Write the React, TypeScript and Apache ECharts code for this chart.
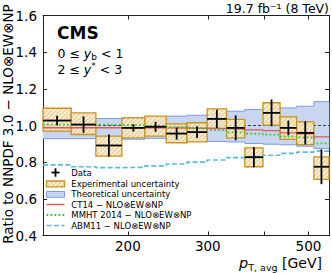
import React, { useEffect, useRef } from 'react';
import * as echarts from 'echarts';

// ---- data ----
const binEdges = [130, 150, 170, 194, 218, 243, 270, 299, 330, 362, 397, 433, 471, 514, 555];
const dataValues = [1.027, 1.005, 0.891, 0.987, 0.993, 0.956, 0.964, 1.036, 0.987, 0.827, 1.069, 0.987, 0.960, 0.775];
const statErr = [0.026, 0.045, 0.06, 0.02, 0.027, 0.033, 0.032, 0.05, 0.068, 0.055, 0.073, 0.04, 0.063, 0.095];
const expHigh = [1.094, 1.069, 0.942, 1.042, 1.051, 1.009, 1.015, 1.091, 1.033, 0.878, 1.124, 1.047, 1.020, 0.829];
const expLow = [0.969, 0.951, 0.833, 0.933, 0.942, 0.906, 0.911, 0.984, 0.933, 0.775, 1.002, 0.924, 0.896, 0.706];
const theoHigh = [1.035, 1.035, 1.038, 1.042, 1.048, 1.051, 1.056, 1.065, 1.078, 1.087, 1.092, 1.096, 1.105, 1.13];
const theoLow = [0.928, 0.928, 0.928, 0.925, 0.93, 0.92, 0.915, 0.913, 0.91, 0.902, 0.898, 0.895, 0.887, 0.875];
const ct14 = [0.988, 0.988, 0.988, 0.988, 0.987, 0.986, 0.985, 0.983, 0.98, 0.976, 0.972, 0.96, 0.955, 0.938];
const mmht = [1.005, 1.005, 1.003, 1.002, 0.998, 0.993, 0.985, 0.975, 0.962, 0.955, 0.95, 0.94, 0.935, 0.902];
const abm11 = [0.785, 0.775, 0.77, 0.772, 0.78, 0.79, 0.80, 0.812, 0.825, 0.83, 0.838, 0.848, 0.855, 0.86];
const xTicks = [200, 300, 400, 500];
const xTickLabels = [200, 300, 500];
const xRange = [130, 555];
const yRange = [0.4, 1.6];
const yStep = 0.2;

const FONT = 'DejaVu Sans';
const lg = (v: number) => Math.log10(v);

const bandFill = '#c8d6f2';
const bandEdge = '#7d9be0';
const boxEdge = '#c8931f';
const boxFill = 'rgba(248,234,205,0.92)';
const hatchColor = '#d8ac55';
const red = '#dc5959';
const green = '#3cc83c';
const cyan = '#5cb9d8';

function stepData(vals: number[]) {
  return binEdges.map((e, i) => [lg(e), vals[Math.min(i, vals.length - 1)]]);
}

function hatchLines(x0: number, y0: number, x1: number, y1: number, s: number, color: string) {
  const out: any[] = [];
  const cStart = Math.ceil((x0 + y0) / s) * s;
  for (let c = cStart; c < x1 + y1; c += s) {
    const xa = Math.max(x0, c - y1);
    const xb = Math.min(x1, c - y0);
    if (xb - xa < 0.3) continue;
    out.push({
      type: 'line',
      shape: { x1: xa, y1: c - xa, x2: xb, y2: c - xb },
      style: { stroke: color, lineWidth: 0.7 },
    });
  }
  return out;
}

export default function App() {
  const ref = useRef<HTMLDivElement>(null);
  useEffect(() => {
    if (!ref.current) return;
    const chart = echarts.init(ref.current, undefined, { renderer: 'svg' });
    const bins = dataValues.map((_, i) => i);

    const xAxisBase = {
      type: 'value',
      min: lg(xRange[0]),
      max: lg(xRange[1]),
      splitLine: { show: false },
      axisLine: { show: true, onZero: false, lineStyle: { color: '#222', width: 1 } },
      axisTick: { show: true, inside: true, length: 4, lineStyle: { color: '#222' }, customValues: xTicks.map(lg) },
    };
    const yAxisBase = {
      type: 'value',
      min: yRange[0],
      max: yRange[1],
      interval: yStep,
      splitLine: { show: false },
      axisLine: { show: true, onZero: false, lineStyle: { color: '#222', width: 1 } },
      axisTick: { show: true, inside: true, length: 4, lineStyle: { color: '#222' } },
    };

    const option: any = {
      animation: false,
      grid: { left: 43, right: 3, top: 15.5, bottom: 37.5, containLabel: false },
      xAxis: [
        {
          ...xAxisBase,
          position: 'bottom',
          axisLabel: {
            show: true,
            customValues: xTickLabels.map(lg),
            formatter: (v: number) => String(Math.round(Math.pow(10, v))),
            fontFamily: FONT,
            fontSize: 13.5,
            color: '#000',
            margin: 3,
          },
        },
        { ...xAxisBase, position: 'top', axisLabel: { show: false } },
      ],
      yAxis: [
        {
          ...yAxisBase,
          position: 'left',
          axisLabel: {
            formatter: (v: number) => v.toFixed(1),
            fontFamily: FONT,
            fontSize: 13.5,
            color: '#000',
            margin: 6,
          },
        },
        { ...yAxisBase, position: 'right', axisLabel: { show: false } },
      ],
      series: [
        {
          type: 'custom',
          name: 'Theoretical uncertainty',
          z: 1,
          encode: { x: [0, 1], y: [2, 3] },
          data: bins.map((i) => [
            lg(binEdges[i]), lg(binEdges[i + 1]), theoLow[i], theoHigh[i],
            i > 0 ? theoHigh[i - 1] : theoHigh[i], i > 0 ? theoLow[i - 1] : theoLow[i],
          ]),
          renderItem: (params: any, api: any) => {
            const tl = api.coord([api.value(0), api.value(3)]);
            const br = api.coord([api.value(1), api.value(2)]);
            const pHi = api.coord([api.value(0), api.value(4)]);
            const pLo = api.coord([api.value(0), api.value(5)]);
            const ch: any[] = [
              { type: 'rect', shape: { x: tl[0] - 0.3, y: tl[1], width: br[0] - tl[0] + 0.6, height: br[1] - tl[1] }, style: { fill: bandFill } },
              { type: 'line', shape: { x1: tl[0], y1: tl[1], x2: br[0], y2: tl[1] }, style: { stroke: bandEdge, lineWidth: 1 } },
              { type: 'line', shape: { x1: tl[0], y1: br[1], x2: br[0], y2: br[1] }, style: { stroke: bandEdge, lineWidth: 1 } },
            ];
            if (params.dataIndex > 0) {
              ch.push({ type: 'line', shape: { x1: tl[0], y1: pHi[1], x2: tl[0], y2: tl[1] }, style: { stroke: bandEdge, lineWidth: 1 } });
              ch.push({ type: 'line', shape: { x1: tl[0], y1: pLo[1], x2: tl[0], y2: br[1] }, style: { stroke: bandEdge, lineWidth: 1 } });
            }
            return { type: 'group', children: ch };
          },
        },
        {
          type: 'line',
          z: 2,
          data: [[lg(xRange[0]), 1], [lg(xRange[1]), 1]],
          symbol: 'none',
          lineStyle: { color: '#111', width: 0.8, type: [3, 2] },
        },
        {
          type: 'custom',
          name: 'Experimental uncertainty',
          z: 3,
          encode: { x: [0, 1], y: [2, 3] },
          data: bins.map((i) => [lg(binEdges[i]), lg(binEdges[i + 1]), expLow[i], expHigh[i]]),
          renderItem: (params: any, api: any) => {
            const tl = api.coord([api.value(0), api.value(3)]);
            const br = api.coord([api.value(1), api.value(2)]);
            const ch: any[] = [
              { type: 'rect', shape: { x: tl[0], y: tl[1], width: br[0] - tl[0], height: br[1] - tl[1] }, style: { fill: boxFill } },
              ...hatchLines(tl[0], tl[1], br[0], br[1], 4.5, hatchColor),
              { type: 'rect', shape: { x: tl[0], y: tl[1], width: br[0] - tl[0], height: br[1] - tl[1] }, style: { fill: 'none', stroke: boxEdge, lineWidth: 1.3 } },
            ];
            return { type: 'group', children: ch };
          },
        },
        {
          type: 'line', name: 'CT14', z: 4, step: 'end', symbol: 'none',
          data: stepData(ct14), lineStyle: { color: red, width: 1.4 },
        },
        {
          type: 'line', name: 'MMHT', z: 4, step: 'end', symbol: 'none',
          data: stepData(mmht), lineStyle: { color: green, width: 1.8, type: [1.8, 2.2] },
        },
        {
          type: 'line', name: 'ABM11', z: 4, step: 'end', symbol: 'none',
          data: stepData(abm11), lineStyle: { color: cyan, width: 1.6, type: [5, 2.5] },
        },
        {
          type: 'custom',
          name: 'Data',
          z: 5,
          encode: { x: [0, 1], y: [2] },
          data: bins.map((i) => [lg(binEdges[i]), lg(binEdges[i + 1]), dataValues[i], statErr[i]]),
          renderItem: (params: any, api: any) => {
            const x0 = api.value(0), x1 = api.value(1), v = api.value(2), e = api.value(3);
            const xm = (x0 + x1) / 2;
            const a = api.coord([x0, v]);
            const b = api.coord([x1, v]);
            const top = api.coord([xm, v + e]);
            const bot = api.coord([xm, v - e]);
            return {
              type: 'group',
              children: [
                { type: 'line', shape: { x1: a[0], y1: a[1], x2: b[0], y2: b[1] }, style: { stroke: '#000', lineWidth: 1.8 } },
                { type: 'line', shape: { x1: top[0], y1: top[1], x2: bot[0], y2: bot[1] }, style: { stroke: '#000', lineWidth: 1.8 } },
              ],
            };
          },
        },
      ],
      graphic: [
        {
          type: 'text', x: 329, y: 8,
          style: { text: '19.7 fb⁻¹ (8 TeV)', font: `12.5px "${FONT}"`, fill: '#000', align: 'right', verticalAlign: 'middle' },
        },
        {
          type: 'text', x: 57, y: 33,
          style: { text: 'CMS', font: `bold 17px "${FONT}"`, fill: '#000', align: 'left', verticalAlign: 'middle' },
        },
        {
          type: 'text', x: 57.5, y: 53,
          style: {
            text: '{n|0 ≤ }{i|y}{s|b}{n| < 1}', align: 'left', verticalAlign: 'middle',
            rich: {
              n: { fontFamily: FONT, fontSize: 12.5, lineHeight: 16, fill: '#000', verticalAlign: 'middle' },
              i: { fontFamily: FONT, fontSize: 12.5, fontStyle: 'italic', lineHeight: 16, fill: '#000', verticalAlign: 'middle' },
              s: { fontFamily: FONT, fontSize: 9, lineHeight: 10, fill: '#000', verticalAlign: 'bottom' },
            },
          },
        },
        {
          type: 'text', x: 57.5, y: 69.5,
          style: {
            text: '{n|2 ≤ }{i|y}{s|*}{n| < 3}', align: 'left', verticalAlign: 'middle',
            rich: {
              n: { fontFamily: FONT, fontSize: 12.5, lineHeight: 16, fill: '#000', verticalAlign: 'middle' },
              i: { fontFamily: FONT, fontSize: 12.5, fontStyle: 'italic', lineHeight: 16, fill: '#000', verticalAlign: 'middle' },
              s: { fontFamily: FONT, fontSize: 9, lineHeight: 10, fill: '#000', verticalAlign: 'top' },
            },
          },
        },
        {
          type: 'text', x: 8, y: 124, rotation: Math.PI / 2,
          style: { text: 'Ratio to NNPDF 3.0 − NLO⊗EW⊗NP', font: `13.5px "${FONT}"`, fill: '#000', align: 'center', verticalAlign: 'middle' },
        },
        {
          type: 'text', x: 322, y: 263,
          style: {
            text: '{i|p}{s|T, avg}{n| [GeV]}', align: 'right', verticalAlign: 'middle',
            rich: {
              n: { fontFamily: FONT, fontSize: 14, lineHeight: 18, fill: '#000', verticalAlign: 'middle' },
              i: { fontFamily: FONT, fontSize: 14.5, fontStyle: 'italic', lineHeight: 18, fill: '#000', verticalAlign: 'middle' },
              s: { fontFamily: FONT, fontSize: 9.5, lineHeight: 13, fill: '#000', verticalAlign: 'bottom' },
            },
          },
        },
        // legend
        {
          type: 'group', x: 0, y: 0,
          children: [
            { type: 'line', shape: { x1: 51.5, y1: 172.5, x2: 59.5, y2: 172.5 }, style: { stroke: '#000', lineWidth: 1.8 } },
            { type: 'line', shape: { x1: 55.5, y1: 168.3, x2: 55.5, y2: 176.7 }, style: { stroke: '#000', lineWidth: 1.8 } },
            { type: 'rect', shape: { x: 46.5, y: 181, width: 18, height: 5.8 }, style: { fill: boxFill } },
            ...hatchLines(46.5, 181, 64.5, 186.8, 4.5, hatchColor),
            { type: 'rect', shape: { x: 46.5, y: 181, width: 18, height: 5.8 }, style: { fill: 'none', stroke: boxEdge, lineWidth: 1.3 } },
            { type: 'rect', shape: { x: 46.5, y: 191.5, width: 18, height: 5.8 }, style: { fill: bandFill, stroke: bandEdge, lineWidth: 1 } },
            { type: 'line', shape: { x1: 46.5, y1: 204.5, x2: 64.5, y2: 204.5 }, style: { stroke: red, lineWidth: 1.4 } },
            { type: 'line', shape: { x1: 46.5, y1: 215, x2: 64.5, y2: 215 }, style: { stroke: green, lineWidth: 1.8, lineDash: [1.8, 2.2] } },
            { type: 'line', shape: { x1: 46.5, y1: 225.5, x2: 64.5, y2: 225.5 }, style: { stroke: cyan, lineWidth: 1.6, lineDash: [5, 2.5] } },
            ...[
              ['Data', 173.3],
              ['Experimental uncertainty', 184],
              ['Theoretical uncertainty', 194.4],
              ['CT14 − NLO⊗EW⊗NP', 204.5],
              ['MMHT 2014 − NLO⊗EW⊗NP', 215],
              ['ABM11 − NLO⊗EW⊗NP', 225.7],
            ].map(([t, y]) => ({
              type: 'text', x: 71.3, y: y as number,
              style: { text: t as string, font: `8.5px "${FONT}"`, fill: '#000', align: 'left', verticalAlign: 'middle' },
            })),
          ],
        },
      ],
    };
    chart.setOption(option);
    return () => chart.dispose();
  }, []);
  return <div ref={ref} style={{ position: 'absolute', left: 0, top: 0, width: 332, height: 273 }} />;
}
